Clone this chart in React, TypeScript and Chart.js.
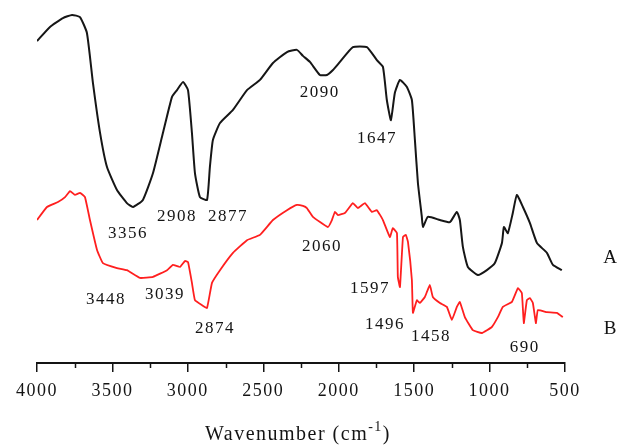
import React, { useEffect, useRef } from 'react';
import { Chart, registerables } from 'chart.js';

Chart.register(...registerables);

// Spectrum A (black)
const wavenumbersA = [4000, 3914, 3828, 3768, 3715, 3669, 3629, 3582, 3536, 3470, 3404, 3364, 3298, 3231, 3165, 3105, 3072, 3032, 2999, 2973, 2953, 2920, 2873, 2854, 2834, 2787, 2701, 2608, 2522, 2436, 2343, 2277, 2237, 2191, 2125, 2078, 2038, 1992, 1906, 1813, 1747, 1707, 1681, 1654, 1628, 1594, 1548, 1515, 1495, 1475, 1449, 1442, 1409, 1329, 1263, 1217, 1197, 1177, 1144, 1077, 1018, 965, 918, 905, 879, 846, 819, 779, 733, 686, 620, 580, 521];
const transmittanceA = [91.2, 95.2, 97.7, 98.6, 98.0, 93.5, 79.3, 65.2, 55.5, 49.0, 45.3, 44.2, 46.2, 53.8, 65.2, 75.4, 77.3, 79.6, 77.3, 65.2, 53.8, 47.0, 46.2, 55.5, 63.2, 68.0, 71.7, 77.3, 80.2, 85.0, 88.1, 88.7, 87.0, 85.3, 81.6, 81.6, 83.0, 85.3, 89.5, 89.5, 85.8, 83.9, 74.5, 68.8, 76.5, 80.2, 78.2, 74.5, 63.2, 51.0, 41.4, 38.5, 41.4, 40.5, 39.9, 42.8, 40.5, 32.9, 27.2, 24.9, 26.3, 28.3, 34.0, 38.5, 36.8, 42.5, 47.6, 44.2, 39.7, 34.0, 31.2, 27.8, 26.3];

// Spectrum B (red)
const wavenumbersB = [4000, 3934, 3861, 3814, 3781, 3748, 3715, 3682, 3649, 3602, 3563, 3470, 3404, 3317, 3231, 3138, 3099, 3052, 3019, 2999, 2973, 2953, 2907, 2873, 2840, 2787, 2701, 2608, 2522, 2436, 2343, 2277, 2237, 2211, 2171, 2072, 2045, 2025, 2005, 1959, 1906, 1873, 1826, 1780, 1747, 1707, 1661, 1641, 1614, 1608, 1594, 1574, 1555, 1541, 1515, 1508, 1482, 1462, 1429, 1396, 1376, 1329, 1283, 1250, 1217, 1197, 1164, 1111, 1051, 985, 945, 912, 852, 812, 786, 773, 753, 733, 713, 693, 680, 620, 554, 514];
const transmittanceB = [40.5, 44.2, 45.6, 47.0, 48.7, 47.6, 48.2, 47.0, 40.5, 32.0, 28.3, 26.9, 26.3, 24.1, 24.4, 26.3, 27.8, 27.2, 28.9, 28.6, 22.7, 17.8, 16.4, 15.6, 22.7, 26.3, 31.2, 34.8, 36.3, 40.5, 43.3, 44.8, 44.5, 43.9, 41.4, 38.5, 40.5, 42.8, 41.9, 42.5, 45.3, 43.9, 45.3, 42.8, 43.3, 40.5, 35.7, 38.2, 36.8, 24.4, 21.5, 35.7, 36.3, 34.3, 23.5, 14.2, 17.8, 17.0, 18.7, 22.1, 18.7, 17.0, 15.9, 12.2, 15.9, 17.3, 13.0, 9.3, 8.5, 10.2, 13.0, 15.9, 17.3, 21.2, 19.8, 11.3, 17.8, 18.4, 17.0, 11.3, 15.0, 14.4, 14.2, 13.0];

// Peak annotations
const peakTexts = ['3356', '2908', '2877', '2090', '1647', '3448', '3039', '2874', '2060', '1597', '1496', '1458', '690'];
const peakX = [3397, 3072, 2734, 2125, 1747, 3543, 3152, 2820, 2111, 1793, 1694, 1389, 766];
const peakY = [36.8, 41.4, 41.4, 76.5, 63.5, 18.1, 19.3, 9.9, 32.9, 21.2, 10.8, 7.4, 4.5];

// Series labels
const seriesNames = ['A', 'B'];
const seriesLabelX = [196, 196];
const seriesLabelY = [29.7, 9.6];

// Axis
const xMin = 500;
const xMax = 4000;
const majorStep = 500;
const minorStep = 250;
const axisTitleMain = 'Wavenumber (cm';
const axisTitleSup = '-1';
const axisTitleEnd = ')';

const INK = '#141414';
const SERIF = '"Liberation Serif", "Times New Roman", serif';

const overlayPlugin = {
  id: 'overlay',
  beforeDraw(chart: any) {
    chart.ctx.letterSpacing = '1.5px';
  },
  afterDraw(chart: any) {
    const { ctx } = chart;
    const x = chart.scales.x;
    const y = chart.scales.y;
    ctx.save();
    ctx.letterSpacing = '1.5px';
    // minor ticks
    ctx.strokeStyle = INK;
    ctx.lineWidth = 1.5;
    for (let v = xMin + minorStep; v < xMax; v += majorStep) {
      const px = Math.round(x.getPixelForValue(v)) + 0.5;
      ctx.beginPath();
      ctx.moveTo(px, x.top);
      ctx.lineTo(px, x.top + 5);
      ctx.stroke();
    }
    // peak labels
    ctx.fillStyle = INK;
    ctx.textAlign = 'center';
    ctx.textBaseline = 'middle';
    ctx.font = `17px ${SERIF}`;
    peakTexts.forEach((t, i) => {
      ctx.fillText(t, x.getPixelForValue(peakX[i]), y.getPixelForValue(peakY[i]));
    });
    ctx.font = `19px ${SERIF}`;
    seriesNames.forEach((t, i) => {
      ctx.fillText(t, x.getPixelForValue(seriesLabelX[i]), y.getPixelForValue(seriesLabelY[i]));
    });
    // axis title with superscript
    ctx.textAlign = 'left';
    ctx.textBaseline = 'alphabetic';
    const mainFont = `20px ${SERIF}`;
    const supFont = `14px ${SERIF}`;
    ctx.font = mainFont;
    const w1 = ctx.measureText(axisTitleMain).width;
    const w3 = ctx.measureText(axisTitleEnd).width;
    ctx.font = supFont;
    const w2 = ctx.measureText(axisTitleSup).width;
    const total = w1 + w2 + w3;
    const cx = (x.left + x.right) / 2;
    const baseY = x.top + 77;
    let sx = cx - total / 2 - 3;
    ctx.font = mainFont;
    ctx.fillText(axisTitleMain, sx, baseY);
    sx += w1;
    ctx.font = supFont;
    ctx.fillText(axisTitleSup, sx, baseY - 9);
    sx += w2;
    ctx.font = mainFont;
    ctx.fillText(axisTitleEnd, sx, baseY);
    ctx.restore();
    ctx.letterSpacing = '0px';
  },
};

export default function App() {
  const canvasRef = useRef<HTMLCanvasElement | null>(null);

  useEffect(() => {
    if (!canvasRef.current) return;
    const chart = new Chart(canvasRef.current, {
      type: 'line',
      data: {
        datasets: [
          {
            label: 'A',
            data: wavenumbersA.map((w, i) => ({ x: w, y: transmittanceA[i] })),
            borderColor: '#161616',
            borderWidth: 2,
            pointRadius: 0,
            tension: 0.15,
            fill: false,
          },
          {
            label: 'B',
            data: wavenumbersB.map((w, i) => ({ x: w, y: transmittanceB[i] })),
            borderColor: '#ff1f1f',
            borderWidth: 1.8,
            pointRadius: 0,
            tension: 0.1,
            fill: false,
          },
        ],
      },
      options: {
        responsive: false,
        animation: false,
        devicePixelRatio: 1,
        layout: { padding: { left: 37, right: 55, top: 10, bottom: 0 } },
        plugins: { legend: { display: false }, tooltip: { enabled: false } },
        scales: {
          x: {
            type: 'linear',
            reverse: true,
            min: xMin,
            max: xMax,
            afterFit: (scale: any) => {
              scale.height = 83;
            },
            ticks: {
              stepSize: majorStep,
              autoSkip: false,
              maxRotation: 0,
              padding: 8,
              color: INK,
              font: { family: SERIF, size: 18 },
              callback: (value: any) => String(value),
            },
            grid: {
              drawOnChartArea: false,
              drawTicks: true,
              tickLength: 9,
              color: INK,
              lineWidth: 1.5,
            },
            border: { display: true, color: INK, width: 2 },
          },
          y: {
            display: false,
            min: 0,
            max: 100,
          },
        },
      },
      plugins: [overlayPlugin],
    });
    return () => chart.destroy();
  }, []);

  return (
    <div style={{ position: 'absolute', left: 0, top: 0, width: 620, height: 446, background: '#fff' }}>
      <canvas ref={canvasRef} width={620} height={446} />
    </div>
  );
}
